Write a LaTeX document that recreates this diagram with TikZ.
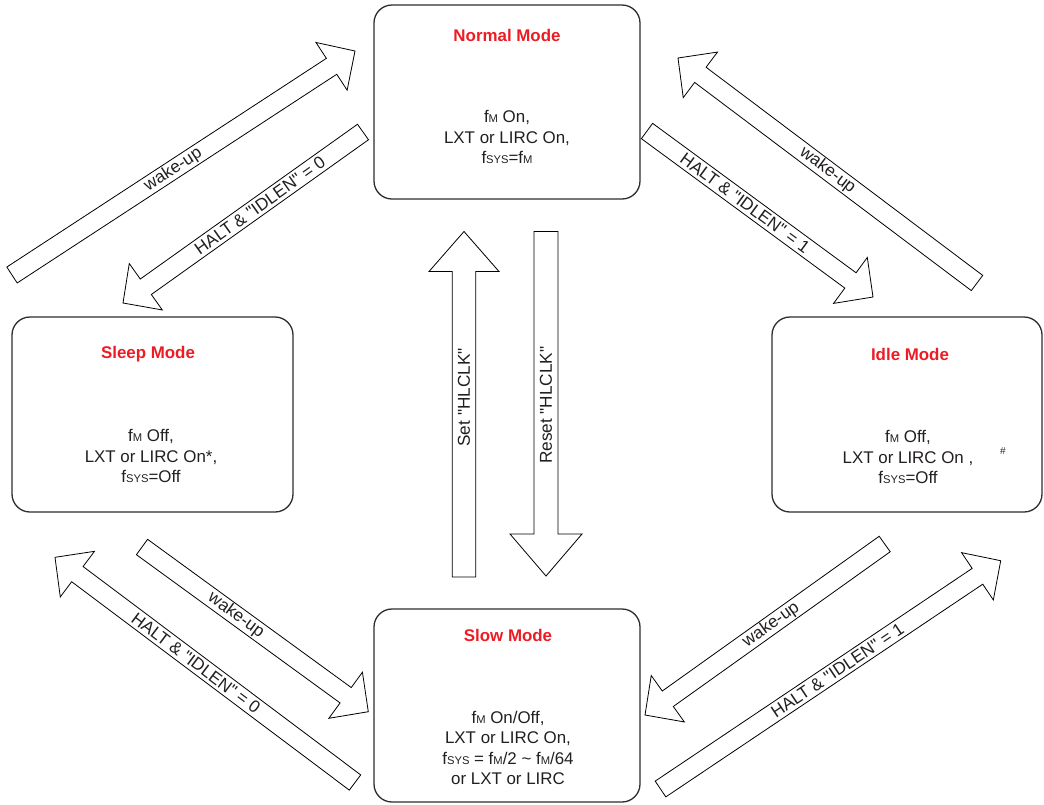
\documentclass[tikz,border=0pt]{standalone}
\usepackage{fontspec}
\setmainfont{Liberation Sans}[Ligatures=TeXOff]
\usetikzlibrary{calc}
\definecolor{modered}{RGB}{237,28,36}
\definecolor{txt}{RGB}{35,31,32}
\definecolor{boxline}{RGB}{45,45,45}
\newcommand\lowsc[1]{{\fontsize{11.2}{11}\selectfont #1}}
% #1 name, #2 tail, #3 tip, #4 shaft half width, #5 head half width, #6 head length
\newcommand\blockarr[6]{%
  \coordinate (#1-b) at ($(#3)!#6!(#2)$);
  \draw[arrowline] ($(#2)!#4!90:(#3)$) -- ($(#1-b)!#4!90:(#3)$) -- ($(#1-b)!#5!90:(#3)$) -- (#3)
    -- ($(#1-b)!#5!-90:(#3)$) -- ($(#1-b)!#4!-90:(#3)$) -- ($(#2)!#4!-90:(#3)$) -- cycle;
}
\tikzset{
  modebox/.style={draw=boxline, line width=1.3pt, rounded corners=18pt, inner sep=0pt, outer sep=0pt},
  arrowline/.style={draw=black, line width=0.8pt, fill=white, line join=miter},
  title/.style={text=modered, font=\fontsize{16.9}{20}\selectfont\bfseries, inner sep=0pt},
  body/.style={text=txt, font=\fontsize{16.9}{20.5}\selectfont, align=center, inner sep=0pt},
  lbl/.style={text=txt, font=\fontsize{17.2}{20}\selectfont, inner sep=0pt},
}
\begin{document}
\begin{tikzpicture}[x=1pt, y=-1pt]
\useasboundingbox (0,0) rectangle (1044,804);
% mode boxes
\node[modebox, minimum width=266, minimum height=194] (normal) at (507,102) {};
\node[modebox, minimum width=281, minimum height=195] (sleep) at (152.5,414.5) {};
\node[modebox, minimum width=270, minimum height=195] (idle) at (907,414.5) {};
\node[modebox, minimum width=266, minimum height=193] (slow) at (507,705.5) {};
% titles
\node[title] (normalT) at (507,35) {Normal Mode};
\node[title] (sleepT) at (148,354) {Sleep Mode};
\node[title] (idleT) at (910,354) {Idle Mode};
\node[title] (slowT) at (508,635) {Slow Mode};
% bodies
\node[body] (normalB) at (507,137) {f\lowsc{M} On,\\LXT or LIRC On,\\f\lowsc{SYS}=f\lowsc{M}};
\node[body] (sleepB) at (151,456) {f\lowsc{M} Off,\\LXT or LIRC On*,\\f\lowsc{SYS}=Off};
\node[body] (idleB) at (908,457) {f\lowsc{M} Off,\\LXT or LIRC On ,\\f\lowsc{SYS}=Off};
\node[text=txt, font=\fontsize{10}{10}\selectfont, inner sep=0pt] (idleH) at (1003,451) {\#};
\node[body] (slowB) at (508,748) {f\lowsc{M} On/Off,\\LXT or LIRC On,\\f\lowsc{SYS} = f\lowsc{M}/2 \textasciitilde{} f\lowsc{M}/64\\or LXT or LIRC};
% arrow end points
\coordinate (setT) at (464,577);   \coordinate (setP) at (464,231.5);
\coordinate (rstT) at (546,231.5); \coordinate (rstP) at (546,576);
\coordinate (a1T) at (12,275);     \coordinate (a1P) at (355,51);
\coordinate (a2T) at (363,132);    \coordinate (a2P) at (123,303);
\coordinate (a3T) at (647,131);    \coordinate (a3P) at (873,297);
\coordinate (a4T) at (977,283);    \coordinate (a4P) at (678,58);
\coordinate (a5T) at (884.7,544);  \coordinate (a5P) at (645,715);
\coordinate (a6T) at (660.5,789);  \coordinate (a6P) at (1000.7,560.7);
\coordinate (a7T) at (142,547);    \coordinate (a7P) at (368.3,711.7);
\coordinate (a8T) at (355,782.5);  \coordinate (a8P) at (55,557.3);
% block arrows
\blockarr{set}{setT}{setP}{11.75pt}{35pt}{40pt}
\blockarr{rst}{rstT}{rstP}{12pt}{36pt}{42pt}
\blockarr{a1}{a1T}{a1P}{9.5pt}{28.5pt}{28pt}
\blockarr{a2}{a2T}{a2P}{9.5pt}{28.5pt}{28pt}
\blockarr{a3}{a3T}{a3P}{9.5pt}{28.5pt}{28pt}
\blockarr{a4}{a4T}{a4P}{9.5pt}{28.5pt}{28pt}
\blockarr{a5}{a5T}{a5P}{9.5pt}{28.5pt}{28pt}
\blockarr{a6}{a6T}{a6P}{9.5pt}{28.5pt}{28pt}
\blockarr{a7}{a7T}{a7P}{9.5pt}{28.5pt}{28pt}
\blockarr{a8}{a8T}{a8P}{9.5pt}{28.5pt}{28pt}
% labels
\path (setT) -- (setP) node[lbl, pos=0.52, sloped] (setL) {Set "HLCLK"};
\path (rstP) -- (rstT) node[lbl, pos=0.496, sloped] (rstL) {Reset "HLCLK"};
\path (a1T) -- (a1P) node[lbl, pos=0.47, sloped] (a1L) {wake-up};
\path (a2T) -- (a2P) node[lbl, pos=0.43, sloped] (a2L) {HALT \& "IDLEN" = 0};
\path (a3T) -- (a3P) node[lbl, pos=0.434, sloped] (a3L) {HALT \& "IDLEN" = 1};
\path (a4T) -- (a4P) node[lbl, pos=0.5, sloped] (a4L) {wake-up};
\path (a5T) -- (a5P) node[lbl, pos=0.474, sloped] (a5L) {wake-up};
\path (a6T) -- (a6P) node[lbl, pos=0.52, sloped] (a6L) {HALT \& "IDLEN" = 1};
\path (a7T) -- (a7P) node[lbl, pos=0.415, sloped] (a7L) {wake-up};
\path (a8T) -- (a8P) node[lbl, pos=0.53, sloped] (a8L) {HALT \& "IDLEN" = 0};
\end{tikzpicture}
\end{document}
